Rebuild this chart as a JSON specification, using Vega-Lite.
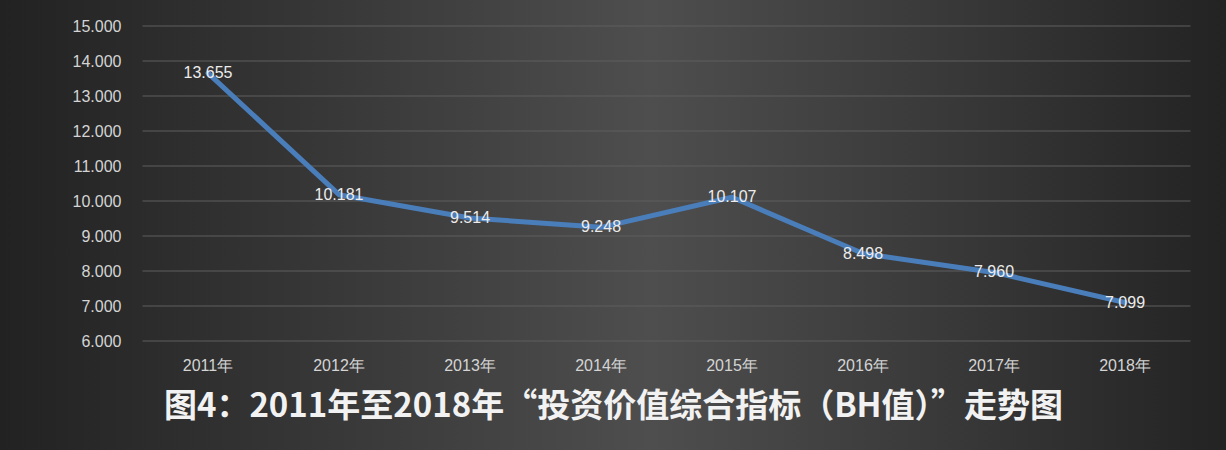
{
  "$schema": "https://vega.github.io/schema/vega-lite/v6.json",
  "width": 1226,
  "height": 450,
  "autosize": {"type": "none"},
  "padding": 0,
  "background": "#2a2a2a",
  "config": {
    "view": {
      "stroke": null,
      "fill": {
        "gradient": "linear",
        "x1": 0, "y1": 0.5, "x2": 1, "y2": 0.5,
        "stops": [
          {"offset": 0, "color": "#222222"},
          {"offset": 0.25, "color": "#363636"},
          {"offset": 0.53, "color": "#4e4e4e"},
          {"offset": 0.78, "color": "#383838"},
          {"offset": 1, "color": "#232323"}
        ]
      }
    },
    "font": "Liberation Sans"
  },
  "datasets": {
    "bh": [
      {"year": "2011年", "value": 13.655},
      {"year": "2012年", "value": 10.181},
      {"year": "2013年", "value": 9.514},
      {"year": "2014年", "value": 9.248},
      {"year": "2015年", "value": 10.107},
      {"year": "2016年", "value": 8.498},
      {"year": "2017年", "value": 7.960},
      {"year": "2018年", "value": 7.099}
    ],
    "grid": [
      {"v": 6}, {"v": 7}, {"v": 8}, {"v": 9}, {"v": 10},
      {"v": 11}, {"v": 12}, {"v": 13}, {"v": 14}, {"v": 15}
    ]
  },
  "layer": [
    {
      "data": {"name": "grid"},
      "mark": {"type": "rule", "color": "#5e5e5e", "strokeWidth": 1},
      "encoding": {
        "y": {"field": "v", "type": "quantitative"},
        "x": {"datum": "2011年", "type": "nominal", "bandPosition": 0},
        "x2": {"datum": "2018年", "bandPosition": 1}
      }
    },
    {
      "data": {"name": "bh"},
      "mark": {"type": "line", "color": "#4a7ebb", "strokeWidth": 5, "strokeJoin": "round", "strokeCap": "round"},
      "encoding": {
        "x": {
          "field": "year", "type": "nominal", "sort": null,
          "scale": {
            "domain": ["2011年", "2012年", "2013年", "2014年", "2015年", "2016年", "2017年", "2018年"],
            "paddingInner": 0, "paddingOuter": 0.6794, "align": 0.8006
          },
          "axis": {
            "orient": "bottom",
            "offset": -109,
            "bandPosition": 0.5,
            "domain": false,
            "ticks": false,
            "labelAngle": 0,
            "labelAlign": "center",
            "labelPadding": 24,
            "labelFontSize": 16,
            "labelColor": "#d4d4d4",
            "labelFont": "Liberation Sans",
            "title": "图4：2011年至2018年“投资价值综合指标（BH值）”走势图",
            "titleFont": "Noto Sans CJK SC",
            "titleFontSize": 33,
            "titleFontWeight": "bold",
            "titleColor": "#f2f2f2",
            "titlePadding": 17
          }
        },
        "y": {
          "field": "value", "type": "quantitative",
          "scale": {"domain": [2.886, 15.743], "nice": false, "zero": false},
          "axis": {
            "orient": "left",
            "offset": -143,
            "values": [6, 7, 8, 9, 10, 11, 12, 13, 14, 15],
            "format": ".3f",
            "domain": false,
            "ticks": false,
            "grid": false,
            "labelPadding": 22,
            "labelFontSize": 16,
            "labelColor": "#d4d4d4",
            "labelFont": "Liberation Sans",
            "title": null
          }
        }
      }
    },
    {
      "data": {"name": "bh"},
      "mark": {"type": "text", "fontSize": 16, "color": "#ececec", "align": "center", "baseline": "middle", "font": "Liberation Sans"},
      "encoding": {
        "x": {"field": "year", "type": "nominal", "sort": null},
        "y": {"field": "value", "type": "quantitative"},
        "text": {"field": "value", "type": "quantitative", "format": ".3f"}
      }
    }
  ]
}
